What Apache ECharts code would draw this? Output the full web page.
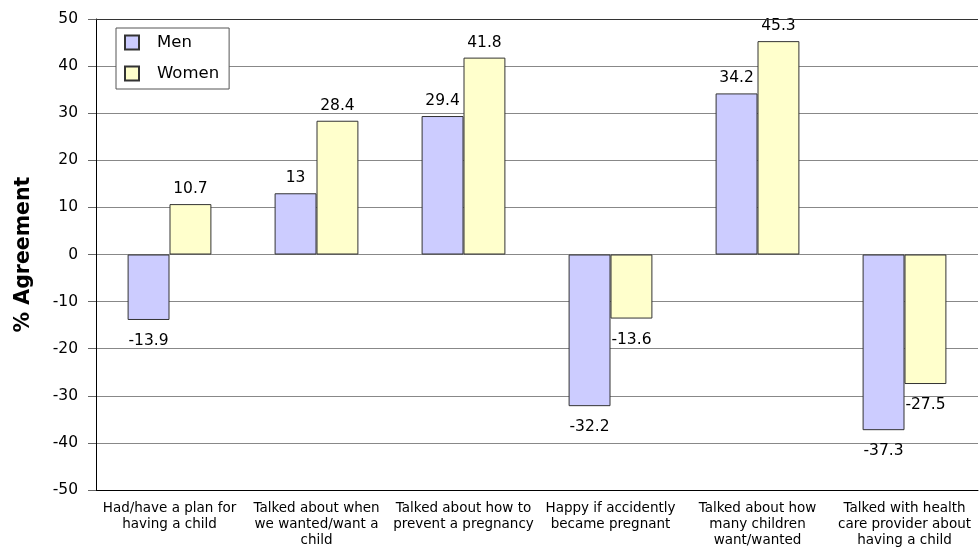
<!DOCTYPE html>
<html><head><meta charset="utf-8">
<script src="https://cdn.jsdelivr.net/npm/echarts@6/dist/echarts.min.js"></script>
<style>html,body{margin:0;padding:0;background:#fff}#c{width:979px;height:552px}</style>
</head><body><div id="c"></div>
<script>
var categories = [
  "Had/have a plan for\nhaving a child",
  "Talked about when\nwe wanted/want a\nchild",
  "Talked about how to\nprevent a pregnancy",
  "Happy if accidently\nbecame pregnant",
  "Talked about how\nmany children\nwant/wanted",
  "Talked with health\ncare provider about\nhaving a child"
];
var men = [-13.9, 13, 29.4, -32.2, 34.2, -37.3];
var women = [10.7, 28.4, 41.8, -13.6, 45.3, -27.5];
var yTicks = {min: -50, max: 50, interval: 10};

function mk(arr) {
  return arr.map(function (v) {
    return {value: v, label: {position: v < 0 ? 'bottom' : 'top', distance: v < 0 ? 13 : 7}};
  });
}
var font = 'DejaVu Sans, sans-serif';
var chart = echarts.init(document.getElementById('c'));
chart.setOption({
  animation: false,
  textStyle: {fontFamily: font},
  grid: {left: 96, right: 1, top: 19, bottom: 62},
  legend: {
    left: 116, top: 28, orient: 'vertical', itemWidth: 14, itemHeight: 14, itemGap: 14,
    padding: [6, 10, 7, 8], borderColor: '#555', borderWidth: 1, backgroundColor: '#fff',
    textStyle: {fontSize: 16.5, color: '#000', fontFamily: font, padding: [0, 0, 0, 13]},
    data: [{name: 'Men', icon: 'rect'}, {name: 'Women', icon: 'rect'}]
  },
  xAxis: {
    type: 'category', data: categories,
    axisLine: {onZero: false, lineStyle: {color: '#000'}},
    axisTick: {show: false},
    axisLabel: {interval: 0, fontSize: 13.5, color: '#000', lineHeight: 16, margin: 10, fontFamily: font}
  },
  yAxis: {
    type: 'value', min: yTicks.min, max: yTicks.max, interval: yTicks.interval,
    name: '% Agreement', nameLocation: 'middle', nameGap: 62,
    nameTextStyle: {fontSize: 20.5, fontWeight: 'bold', color: '#000', fontFamily: font},
    axisLine: {show: true, lineStyle: {color: '#000'}},
    axisTick: {show: true, length: 8, lineStyle: {color: '#666'}},
    axisLabel: {fontSize: 15.5, color: '#000', margin: 18, fontFamily: font},
    splitLine: {lineStyle: {color: '#888', width: 1}}
  },
  series: [
    {name: 'Men', type: 'bar', data: mk(men), barGap: '0%', barCategoryGap: '43%',
     itemStyle: {color: '#CCCCFF', borderColor: '#333', borderWidth: 1},
     label: {show: true, fontSize: 15.5, color: '#000', fontFamily: font}},
    {name: 'Women', type: 'bar', data: mk(women), barGap: '0%', barCategoryGap: '43%',
     itemStyle: {color: '#FFFFCC', borderColor: '#333', borderWidth: 1},
     label: {show: true, fontSize: 15.5, color: '#000', fontFamily: font},
     markLine: {silent: true, symbol: 'none', label: {show: false},
       lineStyle: {color: '#333', type: 'solid', width: 1},
       data: [{yAxis: yTicks.max}]}}
  ]
});
</script></body></html>
